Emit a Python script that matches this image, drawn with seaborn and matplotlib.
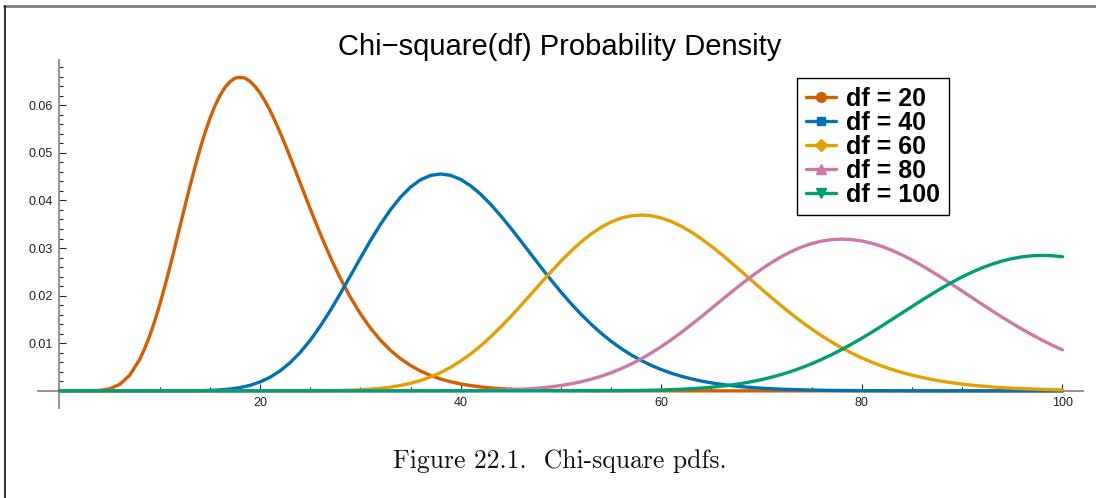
import matplotlib
matplotlib.use("Agg")
import matplotlib.pyplot as plt
import matplotlib.ticker as mticker
from matplotlib.lines import Line2D
import pandas as pd
import seaborn as sns

# ---------------- data ----------------
x_vals = list(range(0, 101))

# df = 20 has a sharp peak, so it is read at half steps around it
x_df20 = ([0, 1, 2, 3, 4, 5, 6, 7, 8,
           8.5, 9, 9.5, 10, 10.5, 11, 11.5, 12, 12.5, 13,
           13.5, 14, 14.5, 15, 15.5, 16, 16.5, 17, 17.5, 18,
           18.5, 19, 19.5, 20, 20.5, 21, 21.5, 22, 22.5, 23,
           23.5, 24, 24.5, 25, 25.5, 26, 26.5, 27, 27.5, 28]
          + list(range(29, 101)))

pdf_df20 = [
    0, 0, 0, 0.00001, 0.0001, 0.00043, 0.00135, 0.00328, 0.00661,
    0.00889, 0.01158, 0.01467, 0.01813, 0.02191, 0.02593, 0.03013, 0.03442, 0.03871, 0.0429,
    0.04693, 0.0507, 0.05415, 0.05722, 0.05986, 0.06204, 0.06373, 0.06494, 0.06569, 0.06587,
    0.0657, 0.065, 0.06395, 0.06255, 0.06084, 0.05886, 0.05665, 0.05426, 0.05173, 0.04911,
    0.04641, 0.04368, 0.04096, 0.03825, 0.03561, 0.03303, 0.03053, 0.02813, 0.02584, 0.02367,
    0.01969, 0.0162, 0.0132, 0.01065, 0.00852, 0.00676, 0.00533, 0.00416, 0.00323, 0.00249, 0.00191,
    0.00145, 0.0011, 0.00083, 0.00062, 0.00046, 0.00034, 0.00025, 0.00019, 0.00014, 0.0001,
    0.00007, 0.00005, 0.00004, 0.00003, 0.00002, 0.00002, 0.00001, 0, 0, 0,
    0, 0, 0, 0, 0, 0, 0, 0, 0, 0,
    0, 0, 0, 0, 0, 0, 0, 0, 0, 0,
    0, 0, 0, 0, 0, 0, 0, 0, 0, 0,
    0, 0, 0, 0, 0, 0, 0, 0, 0, 0,
    0,
]

pdf_df40 = [
    0, 0, 0, 0, 0, 0, 0, 0, 0, 0,
    0, 0, 0.00001, 0.00002, 0.00004, 0.0001, 0.0002, 0.00038, 0.00069, 0.00116,
    0.00187, 0.00286, 0.0042, 0.00592, 0.00807, 0.01062, 0.01358, 0.01687, 0.02042, 0.02413,
    0.02788, 0.03153, 0.03496, 0.03804, 0.04068, 0.0428, 0.04434, 0.04526, 0.04556, 0.04527,
    0.04442, 0.04307, 0.04129, 0.03916, 0.03676, 0.03418, 0.03148, 0.02873, 0.02599, 0.02332,
    0.02076, 0.01835, 0.01609, 0.01401, 0.01212, 0.01042, 0.0089, 0.00756, 0.00638, 0.00536,
    0.00447, 0.00371, 0.00307, 0.00252, 0.00206, 0.00168, 0.00136, 0.0011, 0.00088, 0.00071,
    0.00056, 0.00045, 0.00035, 0.00028, 0.00022, 0.00017, 0.00013, 0.0001, 0.00008, 0.00006,
    0.00005, 0.00004, 0.00003, 0.00002, 0.00002, 0.00001, 0, 0, 0, 0,
    0, 0, 0, 0, 0, 0, 0, 0, 0, 0,
    0,
]

pdf_df60 = [
    0, 0, 0, 0, 0, 0, 0, 0, 0, 0,
    0, 0, 0, 0, 0, 0, 0, 0, 0, 0,
    0, 0, 0, 0, 0.00001, 0.00001, 0.00003, 0.00005, 0.00008, 0.00014,
    0.00022, 0.00035, 0.00053, 0.00078, 0.00113, 0.00159, 0.00218, 0.00292, 0.00384, 0.00495,
    0.00626, 0.00776, 0.00947, 0.01137, 0.01343, 0.01563, 0.01793, 0.0203, 0.02266, 0.025,
    0.02725, 0.02935, 0.03126, 0.03294, 0.03436, 0.03548, 0.03629, 0.03677, 0.03693, 0.03678,
    0.03632, 0.03557, 0.03458, 0.03336, 0.03194, 0.03037, 0.02869, 0.02691, 0.02507, 0.02322,
    0.02138, 0.01957, 0.0178, 0.01611, 0.0145, 0.01298, 0.01156, 0.01024, 0.00903, 0.00792,
    0.00692, 0.00602, 0.00521, 0.00449, 0.00386, 0.0033, 0.00281, 0.00238, 0.00201, 0.00169,
    0.00142, 0.00119, 0.00099, 0.00082, 0.00068, 0.00056, 0.00046, 0.00038, 0.00031, 0.00025,
    0.0002,
]

pdf_df80 = [
    0, 0, 0, 0, 0, 0, 0, 0, 0, 0,
    0, 0, 0, 0, 0, 0, 0, 0, 0, 0,
    0, 0, 0, 0, 0, 0, 0, 0, 0, 0,
    0, 0, 0, 0, 0, 0, 0, 0.00001, 0.00001, 0.00002,
    0.00003, 0.00004, 0.00007, 0.0001, 0.00016, 0.00023, 0.00032, 0.00045, 0.00062, 0.00085,
    0.00113, 0.00148, 0.00191, 0.00244, 0.00307, 0.0038, 0.00466, 0.00563, 0.00673, 0.00795,
    0.00929, 0.01074, 0.01228, 0.01391, 0.01559, 0.01731, 0.01904, 0.02076, 0.02244, 0.02405,
    0.02557, 0.02697, 0.02822, 0.02931, 0.03022, 0.03094, 0.03146, 0.03177, 0.03187, 0.03177,
    0.03148, 0.03099, 0.03033, 0.02951, 0.02856, 0.02748, 0.0263, 0.02504, 0.02372, 0.02235,
    0.02096, 0.01956, 0.01817, 0.0168, 0.01546, 0.01417, 0.01293, 0.01175, 0.01063, 0.00958,
    0.0086,
]

pdf_df100 = [
    0, 0, 0, 0, 0, 0, 0, 0, 0, 0,
    0, 0, 0, 0, 0, 0, 0, 0, 0, 0,
    0, 0, 0, 0, 0, 0, 0, 0, 0, 0,
    0, 0, 0, 0, 0, 0, 0, 0, 0, 0,
    0, 0, 0, 0, 0, 0, 0, 0, 0, 0,
    0, 0.00001, 0.00001, 0.00001, 0.00002, 0.00003, 0.00005, 0.00007, 0.0001, 0.00013,
    0.00018, 0.00025, 0.00034, 0.00045, 0.00059, 0.00076, 0.00098, 0.00124, 0.00155, 0.00193,
    0.00236, 0.00287, 0.00346, 0.00412, 0.00487, 0.0057, 0.00662, 0.00762, 0.0087, 0.00985,
    0.01107, 0.01233, 0.01365, 0.015, 0.01636, 0.01772, 0.01906, 0.02037, 0.02163, 0.02282,
    0.02393, 0.02494, 0.02585, 0.02663, 0.02728, 0.02779, 0.02816, 0.02838, 0.02845, 0.02838,
    0.02817,
]

series_labels = ["df = 20", "df = 40", "df = 60", "df = 80", "df = 100"]
series_x = [x_df20, x_vals, x_vals, x_vals, x_vals]
series_values = [pdf_df20, pdf_df40, pdf_df60, pdf_df80, pdf_df100]
x_major_ticks = [20, 40, 60, 80, 100]
y_major_ticks = [0.01, 0.02, 0.03, 0.04, 0.05, 0.06]
y_tick_labels = ["0.01", "0.02", "0.03", "0.04", "0.05", "0.06"]
title_text = "Chi\u2212square(df) Probability Density"
caption_text = "Figure 22.1.  Chi-square pdfs."

# ---------------- styles ----------------
colors = ["#D55E00", "#0072B2", "#E69F00", "#CC79A7", "#009E73"]
markers = ["o", "s", "D", "^", "v"]
marker_sizes = [7, 5.5, 6, 7.5, 7.5]

sns.set_style("white")
plt.rcParams["font.family"] = ["Liberation Sans", "DejaVu Sans"]
plt.rcParams["text.color"] = "black"

frames = []
for lab, xs, ys in zip(series_labels, series_x, series_values):
    frames.append(pd.DataFrame({"x": xs, "density": ys, "series": lab}))
data = pd.concat(frames, ignore_index=True)

W, H = 1096, 498
fig = plt.figure(figsize=(W / 100, H / 100), dpi=100)
ax = fig.add_axes([38 / W, 1 - 408 / H, (1083 - 38) / W, (408 - 60) / H])

sns.lineplot(data=data, x="x", y="density", hue="series", hue_order=series_labels,
             palette=colors, estimator=None, errorbar=None, linewidth=2.4,
             legend=False, ax=ax, zorder=3)

ax.set_xlim(-2.14, 102.05)
ax.set_ylim(-0.0036, 0.0695)
ax.set_xlabel("")
ax.set_ylabel("")

for side in ["top", "right"]:
    ax.spines[side].set_visible(False)
for side in ["left", "bottom"]:
    ax.spines[side].set_position(("data", 0))
    ax.spines[side].set_color("#8a8a8a")
    ax.spines[side].set_linewidth(1.3)
    ax.spines[side].set_zorder(1)

ax.set_xticks(x_major_ticks)
ax.set_xticklabels([str(v) for v in x_major_ticks])
ax.xaxis.set_minor_locator(mticker.MultipleLocator(5))
ax.set_yticks(y_major_ticks)
ax.set_yticklabels(y_tick_labels)
ax.yaxis.set_minor_locator(mticker.FixedLocator(
    [v / 1000 for v in range(2, 70, 2) if v % 10 != 0]))

ax.tick_params(which="both", direction="in", colors="#222222", width=0.8,
               labelsize=9, labelcolor="#222222", bottom=True, left=True,
               top=False, right=False)
ax.tick_params(which="major", length=5)
ax.tick_params(which="minor", length=3)
ax.tick_params(axis="x", pad=4.5)
ax.tick_params(axis="y", pad=4.5)
ax.grid(False)

# frame lines of the figure box
fig.add_artist(Line2D([4 / W, 1], [1 - 6 / H, 1 - 6 / H], transform=fig.transFigure,
                      color="#7f7f7f", lw=2.0))
fig.add_artist(Line2D([4.5 / W, 4.5 / W], [0, 1 - 6 / H], transform=fig.transFigure,
                      color="#111111", lw=1.2))

fig.text(560 / W, 1 - 55 / H, title_text, ha="center", va="baseline", fontsize=21,
         color="black")
fig.text(560 / W, 1 - 468 / H, caption_text, ha="center", va="baseline", fontsize=18.5,
         family=["cmr10", "DejaVu Serif"], color="#111111")

handles = [Line2D([], [], color=c, marker=m, markersize=ms, lw=2.4)
           for c, m, ms in zip(colors, markers, marker_sizes)]
leg = fig.legend(handles, series_labels, loc="upper left",
                 bbox_to_anchor=(797 / W, 1 - 78 / H), bbox_transform=fig.transFigure,
                 prop={"weight": "bold", "size": 18}, frameon=True, fancybox=False,
                 edgecolor="black", framealpha=1, borderpad=0.35, labelspacing=0.0,
                 handlelength=1.2, handletextpad=0.4, borderaxespad=0)
leg.get_frame().set_linewidth(1.0)
for t in leg.get_texts():
    t.set_color("black")

fig.savefig("out.png", dpi=100)
